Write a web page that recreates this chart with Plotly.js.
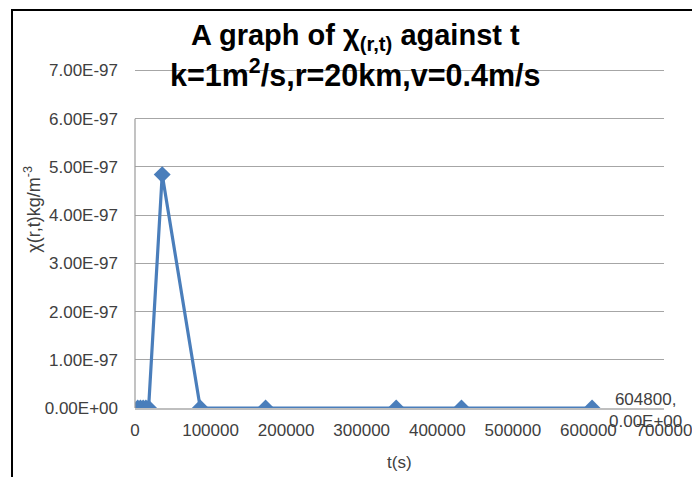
<!DOCTYPE html>
<html>
<head>
<meta charset="utf-8">
<script src="https://cdn.plot.ly/plotly-3.0.1.min.js"></script>
<style>html,body{margin:0;padding:0;background:#fff;}#chart{width:692px;height:477px;}</style>
</head>
<body>
<div id="chart"></div>
<script>
// Data
const timeSeconds = [3600, 7200, 10800, 14400, 18000, 36000, 86400, 172800, 345600, 432000, 604800];
const concentration = [0, 0, 0, 0, 0, 4.84e-97, 0, 0, 0, 0, 0];
const yTickValues = [0, 1e-97, 2e-97, 3e-97, 4e-97, 5e-97, 6e-97, 7e-97];
const yTickLabels = ["0.00E+00", "1.00E-97", "2.00E-97", "3.00E-97", "4.00E-97", "5.00E-97", "6.00E-97", "7.00E-97"];
const xTickValues = [0, 100000, 200000, 300000, 400000, 500000, 600000, 700000];
const xTickLabels = ["0", "100000", "200000", "300000", "400000", "500000", "600000", "700000"];
const lastLabel = "604800,<br>0.00E+00";
const titleLine1 = "<b>A graph of χ<sub>(r,t)</sub> against t</b>";
const titleLine2 = "<b>k=1m<sup>2</sup>/s,r=20km,v=0.4m/s</b>";
const xTitle = "t(s)";
const yTitle = "χ(r,t)kg/m<sup>-3</sup>";

const font = "Liberation Sans, Arial, sans-serif";
const blue = "#4a7ebb";
const txt = "#404040";

const trace = {
  x: timeSeconds,
  y: concentration,
  type: "scatter",
  mode: "lines+markers",
  line: {color: blue, width: 3.2},
  marker: {symbol: "diamond", size: 13, color: blue},
  hoverinfo: "skip"
};

// plot area: x 135..664, y 68..408
const layout = {
  width: 692,
  height: 477,
  margin: {l: 135, r: 28, t: 68, b: 69},
  paper_bgcolor: "#ffffff",
  plot_bgcolor: "#ffffff",
  showlegend: false,
  font: {family: font, color: txt, size: 17},
  xaxis: {
    range: [0, 700000],
    tickvals: xTickValues,
    ticktext: xTickLabels,
    showgrid: false,
    zeroline: false,
    showline: true,
    linecolor: "#bfbfbf",
    linewidth: 1.5,
    ticks: "",
    ticklabelstandoff: 6,
    ticklabeloverflow: "allow",
    tickfont: {family: font, size: 17, color: txt}
  },
  yaxis: {
    range: [0, 7.05e-97],
    tickvals: yTickValues,
    ticktext: yTickLabels,
    showgrid: true,
    gridcolor: "#a6a6a6",
    gridwidth: 1,
    zeroline: false,
    showline: false,
    ticks: "",
    ticklabelstandoff: 16,
    tickfont: {family: font, size: 17, color: txt}
  },
  shapes: [
    {type: "line", xref: "paper", yref: "y", x0: 0, x1: 0, y0: 0, y1: 6e-97, line: {color: "#9a9a9a", width: 1.2}},
    {type: "rect", xref: "paper", yref: "paper", x0: -0.2325, x1: 1.1, y0: -0.25, y1: 1.1706, line: {color: "#000000", width: 2}, layer: "above"}
  ],
  annotations: [
    {xref: "paper", yref: "paper", x: 0.416, y: 1.091, text: titleLine1, showarrow: false,
     xanchor: "center", yanchor: "middle", font: {family: font, size: 29, color: "#000000"}},
    {xref: "paper", yref: "paper", x: 0.416, y: 0.985, text: titleLine2, showarrow: false,
     xanchor: "center", yanchor: "middle", font: {family: font, size: 30.5, color: "#000000"}},
    {xref: "paper", yref: "paper", x: 0.5, y: -0.159, text: xTitle, showarrow: false,
     xanchor: "center", yanchor: "middle", font: {family: font, size: 17, color: txt}},
    {xref: "paper", yref: "paper", x: -0.193, y: 0.586, text: yTitle, showarrow: false, textangle: -90,
     xanchor: "center", yanchor: "middle", font: {family: font, size: 18, color: txt}},
    {x: 604800, y: 0, xref: "x", yref: "y", text: lastLabel, showarrow: false,
     xanchor: "center", yanchor: "middle", xshift: 53, yshift: -2, align: "center",
     font: {family: font, size: 17, color: txt}}
  ]
};

Plotly.newPlot("chart", [trace], layout, {displayModeBar: false, staticPlot: true});
</script>
</body>
</html>
